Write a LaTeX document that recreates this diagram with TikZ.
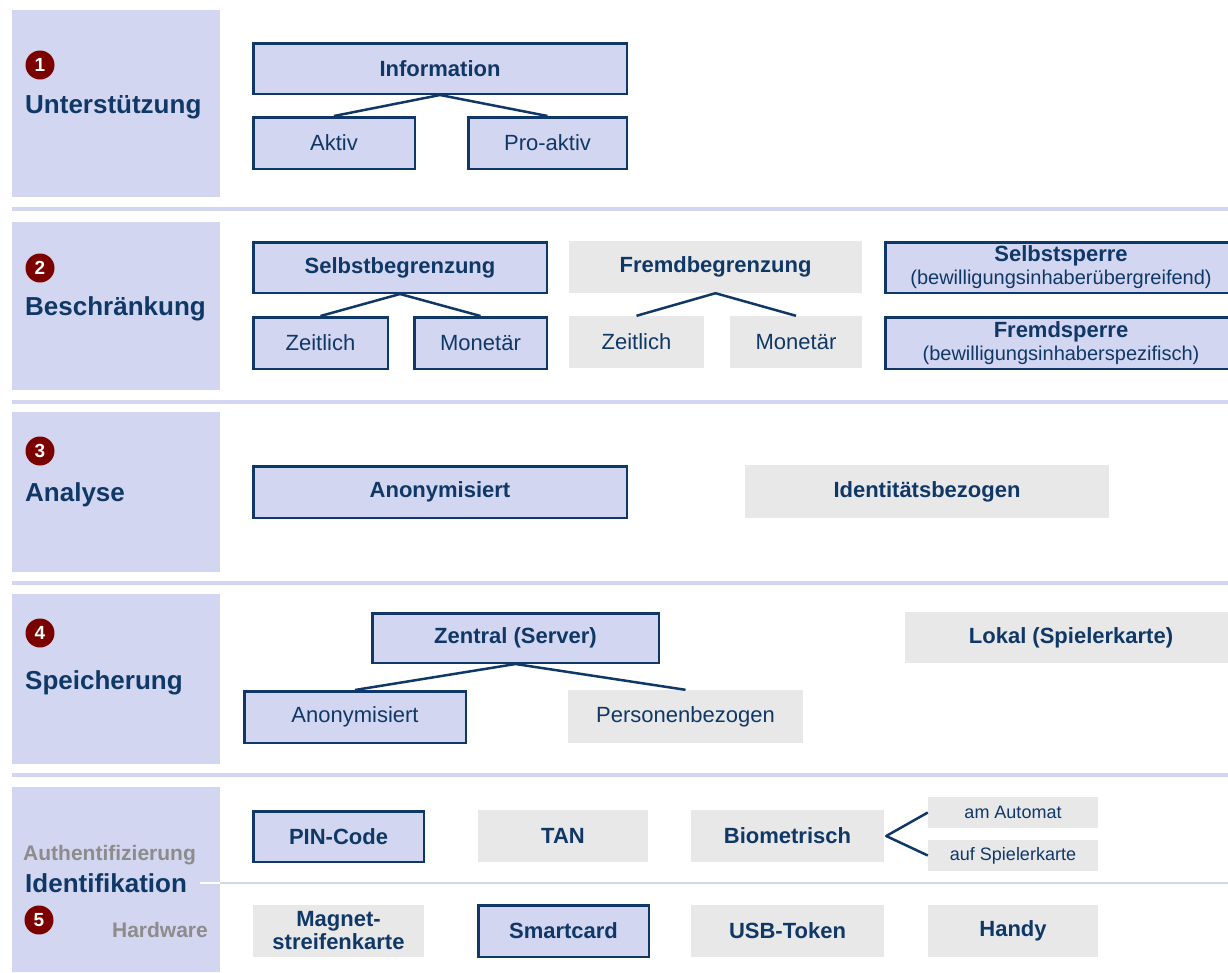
\documentclass[tikz,border=0pt]{standalone}
\usepackage{fontspec}
\setmainfont{Liberation Sans}
\definecolor{lav}{HTML}{D3D6F0}
\definecolor{navy}{HTML}{0F3867}
\definecolor{gbox}{HTML}{E8E8E8}
\definecolor{dred}{HTML}{7B0000}
\definecolor{gtext}{HTML}{8C8C8C}
\begin{document}
\begin{tikzpicture}[x=1pt,y=-1pt,
  bx/.style={draw=navy, line width=2.5pt, fill=lav, text=navy, inner sep=0pt, align=center},
  gb/.style={fill=gbox, text=navy, inner sep=0pt, align=center},
  bf/.style={font=\fontsize{22}{23}\selectfont\bfseries},
  rg/.style={font=\fontsize{22}{23}\selectfont},
  sm/.style={font=\fontsize{18}{20}\selectfont},
  conn/.style={draw=navy, line width=2.5pt, line join=round},
  num/.style={circle, fill=dred, text=white, minimum size=29pt, inner sep=0pt, font=\fontsize{19}{19}\selectfont\bfseries},
  sec/.style={text=navy, font=\fontsize{26}{26}\selectfont\bfseries, anchor=base west, inner sep=0pt},
  glab/.style={text=gtext, font=\fontsize{21}{21}\selectfont\bfseries, inner sep=0pt}]
\useasboundingbox (0,0) rectangle (1228,972);
% panels
\fill[lav] (12,10) rectangle (220,197);
\fill[lav] (12,222) rectangle (220,390);
\fill[lav] (12,412) rectangle (220,572);
\fill[lav] (12,594) rectangle (220,764);
\fill[lav] (12,787) rectangle (220,972);
% separators
\fill[lav] (12,207) rectangle (1228,211);
\fill[lav] (12,400) rectangle (1228,404);
\fill[lav] (12,581) rectangle (1228,585);
\fill[lav] (12,773) rectangle (1228,777);
\draw[white, line width=1.5pt] (200,883) -- (220,883);
\draw[lav, line width=1.5pt] (220,883) -- (1228,883);
% section labels
\node[num] (n1) at (40,65) {1};
\node[sec] (s1) at (25,113) {Unterstützung};
\node[num] (n2) at (40,268) {2};
\node[sec] (s2) at (25,315) {Beschränkung};
\node[num] (n3) at (40,451) {3};
\node[sec] (s3) at (25,501) {Analyse};
\node[num] (n4) at (40,633) {4};
\node[sec] (s4) at (25,689) {Speicherung};
\node[glab, anchor=base west] (auth) at (23,860) {Authentifizierung};
\node[sec] (s5) at (25,892) {Identifikation};
\node[num] (n5) at (39,920) {5};
\node[glab, anchor=base east] (hw) at (208,937) {Hardware};
% section 1
\node[bx, bf, minimum width=373.5pt, minimum height=50.5pt] (info) at (440,68.5) {Information};
\node[bx, rg, minimum width=161.5pt, minimum height=51.5pt] (aktiv) at (334,143) {Aktiv};
\node[bx, rg, minimum width=158.5pt, minimum height=51.5pt] (proaktiv) at (547.5,143) {Pro-aktiv};
\draw[conn] (aktiv.north) -- (info.south) -- (proaktiv.north);
% section 2
\node[bx, bf, minimum width=293.5pt, minimum height=50.5pt] (selbstb) at (400,267.5) {Selbstbegrenzung};
\node[bx, rg, minimum width=134.5pt, minimum height=51.5pt] (zeit1) at (320.5,343) {Zeitlich};
\node[bx, rg, minimum width=132.5pt, minimum height=51.5pt] (mone1) at (480.5,343) {Monetär};
\draw[conn] (zeit1.north) -- (selbstb.south) -- (mone1.north);
\node[gb, bf, minimum width=293pt, minimum height=52pt] (fremdb) at (715.5,267) {Fremdbegrenzung};
\node[gb, rg, minimum width=135pt, minimum height=52pt] (zeit2) at (636.5,342) {Zeitlich};
\node[gb, rg, minimum width=132pt, minimum height=52pt] (mone2) at (796,342) {Monetär};
\draw[conn] (zeit2.north) -- (fremdb.south) -- (mone2.north);
\node[bx, bf, minimum width=351.5pt, minimum height=50.5pt] (selbsts) at (1061,267.5) {Selbstsperre\\{\fontsize{20}{23}\selectfont\mdseries (bewilligungsinhaberübergreifend)}};
\node[bx, bf, minimum width=351.5pt, minimum height=51.5pt] (fremds) at (1061,343) {Fremdsperre\\{\fontsize{20}{23}\selectfont\mdseries (bewilligungsinhaberspezifisch)}};
% section 3
\node[bx, bf, minimum width=373.5pt, minimum height=51.5pt] (anon1) at (440,492) {Anonymisiert};
\node[gb, bf, minimum width=364pt, minimum height=53pt] (ident) at (927,491.5) {Identitätsbezogen};
% section 4
\node[bx, bf, minimum width=286.5pt, minimum height=49.5pt] (zentral) at (515.5,638) {Zentral (Server)};
\node[bx, rg, minimum width=221.5pt, minimum height=51.5pt] (anon2) at (355,717) {Anonymisiert};
\node[gb, rg, minimum width=235pt, minimum height=53pt] (person) at (685.5,716.5) {Personenbezogen};
\draw[conn] (anon2.north) -- (zentral.south) -- (person.north);
\node[gb, bf, minimum width=332pt, minimum height=51pt] (lokal) at (1071,637.5) {Lokal (Spielerkarte)};
% section 5
\node[bx, bf, minimum width=170.5pt, minimum height=50.5pt] (pin) at (338.5,836.5) {PIN-Code};
\node[gb, bf, minimum width=170pt, minimum height=52pt] (tan) at (563,836) {TAN};
\node[gb, bf, minimum width=193pt, minimum height=52pt] (bio) at (787.5,836) {Biometrisch};
\node[gb, sm, minimum width=170pt, minimum height=31pt] (amaut) at (1013,812.5) {am Automat};
\node[gb, sm, minimum width=170pt, minimum height=31pt] (aufsp) at (1013,855.5) {auf Spielerkarte};
\draw[conn] (amaut.west) -- ([xshift=2pt]bio.east) -- (aufsp.west);
\node[gb, bf, minimum width=171pt, minimum height=52pt] (magnet) at (338.5,931) {Magnet-\\streifenkarte};
\node[bx, bf, minimum width=170.5pt, minimum height=51.5pt] (smart) at (563.5,931) {Smartcard};
\node[gb, bf, minimum width=193pt, minimum height=52pt] (usb) at (787.5,931) {USB-Token};
\node[gb, bf, minimum width=170pt, minimum height=52pt] (handy) at (1013,931) {Handy};
\end{tikzpicture}
\end{document}
